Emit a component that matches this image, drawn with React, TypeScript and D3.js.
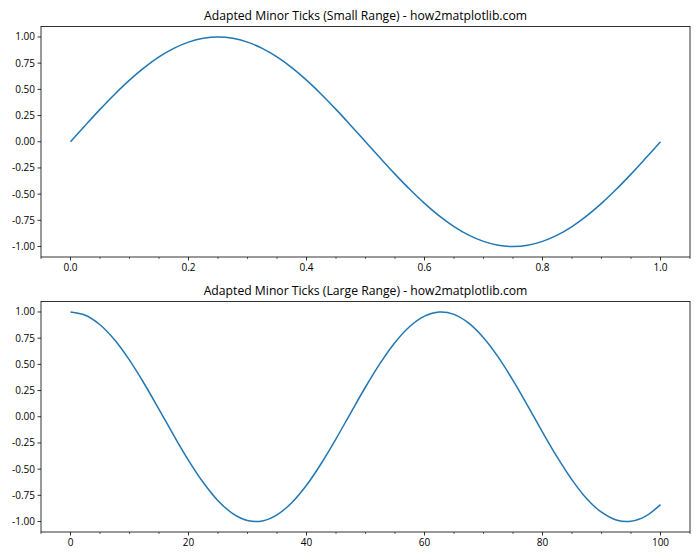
import React from "react";
import * as d3 from "d3";

const topTitle = "Adapted Minor Ticks (Small Range) - how2matplotlib.com";
const bottomTitle = "Adapted Minor Ticks (Large Range) - how2matplotlib.com";

const topX = [0, 0.025, 0.05, 0.075, 0.1, 0.125, 0.15, 0.175, 0.2, 0.225, 0.25, 0.275, 0.3, 0.325, 0.35, 0.375, 0.4, 0.425, 0.45, 0.475, 0.5, 0.525, 0.55, 0.575, 0.6, 0.625, 0.65, 0.675, 0.7, 0.725, 0.75, 0.775, 0.8, 0.825, 0.85, 0.875, 0.9, 0.925, 0.95, 0.975, 1.0];
const topY = [0, 0.156, 0.309, 0.454, 0.588, 0.707, 0.809, 0.891, 0.951, 0.988, 1.0, 0.988, 0.951, 0.891, 0.809, 0.707, 0.588, 0.454, 0.309, 0.156, 0, -0.156, -0.309, -0.454, -0.588, -0.707, -0.809, -0.891, -0.951, -0.988, -1.0, -0.988, -0.951, -0.891, -0.809, -0.707, -0.588, -0.454, -0.309, -0.156, 0];

const bottomX = [0, 2.5, 5, 7.5, 10, 12.5, 15, 17.5, 20, 22.5, 25, 27.5, 30, 32.5, 35, 37.5, 40, 42.5, 45, 47.5, 50, 52.5, 55, 57.5, 60, 62.5, 65, 67.5, 70, 72.5, 75, 77.5, 80, 82.5, 85, 87.5, 90, 92.5, 95, 97.5, 100];
const bottomY = [1.0, 0.969, 0.878, 0.732, 0.54, 0.315, 0.071, -0.178, -0.416, -0.628, -0.801, -0.924, -0.99, -0.994, -0.936, -0.82, -0.654, -0.446, -0.211, 0.038, 0.284, 0.512, 0.709, 0.861, 0.96, 0.999, 0.977, 0.893, 0.754, 0.569, 0.347, 0.104, -0.146, -0.386, -0.602, -0.782, -0.911, -0.985, -0.997, -0.948, -0.839];

const yTicks = [-1.0, -0.75, -0.5, -0.25, 0, 0.25, 0.5, 0.75, 1.0];
const topMajor = [0, 0.2, 0.4, 0.6, 0.8, 1.0];
const topMinor = [-0.05, 0.05, 0.1, 0.15, 0.25, 0.3, 0.35, 0.45, 0.5, 0.55, 0.65, 0.7, 0.75, 0.85, 0.9, 0.95, 1.05];
const bottomMajor = [0, 20, 40, 60, 80, 100];
const bottomMinor = [-5, 5, 10, 15, 25, 30, 35, 45, 50, 55, 65, 70, 75, 85, 90, 95, 105];

const W = 700, H = 560;
const FONT = "'Open Sans', 'DejaVu Sans', sans-serif";

function Panel({ top, title, xs, ys, xDomain, major, minor, fmt }: any) {
  const left = 41, right = 690, bottom = top + 230.5;
  const x = d3.scaleLinear().domain(xDomain).range([left, right]);
  const y = d3.scaleLinear().domain([-1.1, 1.1]).range([bottom, top]);
  const line = d3.line<number>().x((_, i) => x(xs[i])).y((d) => y(d)).curve(d3.curveCatmullRom.alpha(0.5));
  return (
    <g>
      <text x={(left + right) / 2} y={top - 7} textAnchor="middle" fontSize={12.2} fontFamily={FONT} fill="#000">{title}</text>
      <path d={line(ys) || ""} fill="none" stroke="#1f77b4" strokeWidth={1.5} />
      <rect x={left} y={top} width={right - left} height={bottom - top} fill="none" stroke="#000" strokeWidth={0.8} />
      {yTicks.map((t) => (
        <g key={"y" + t}>
          <line x1={left - 3.5} x2={left} y1={y(t)} y2={y(t)} stroke="#000" strokeWidth={0.8} />
          <text x={left - 6} y={y(t)} dy="0.35em" textAnchor="end" fontSize={10} fontFamily={FONT} fill="#000">{t.toFixed(2)}</text>
        </g>
      ))}
      {major.map((t: number) => (
        <g key={"x" + t}>
          <line x1={x(t)} x2={x(t)} y1={bottom} y2={bottom + 3.5} stroke="#000" strokeWidth={0.8} />
          <text x={x(t)} y={bottom + 14} textAnchor="middle" fontSize={10} fontFamily={FONT} fill="#000">{fmt(t)}</text>
        </g>
      ))}
      {minor.map((t: number) => (
        <line key={"m" + t} x1={x(t)} x2={x(t)} y1={bottom} y2={bottom + 2} stroke="#000" strokeWidth={0.6} />
      ))}
    </g>
  );
}

export default function App() {
  return (
    <svg width={W} height={H} style={{ position: "absolute", left: 0, top: 0, background: "#fff" }}>
      <rect width={W} height={H} fill="#fff" />
      <Panel top={26.5} title={topTitle} xs={topX} ys={topY} xDomain={[-0.05, 1.05]} major={topMajor} minor={topMinor} fmt={(t: number) => t.toFixed(1)} />
      <Panel top={301.5} title={bottomTitle} xs={bottomX} ys={bottomY} xDomain={[-5, 105]} major={bottomMajor} minor={bottomMinor} fmt={(t: number) => String(t)} />
    </svg>
  );
}
